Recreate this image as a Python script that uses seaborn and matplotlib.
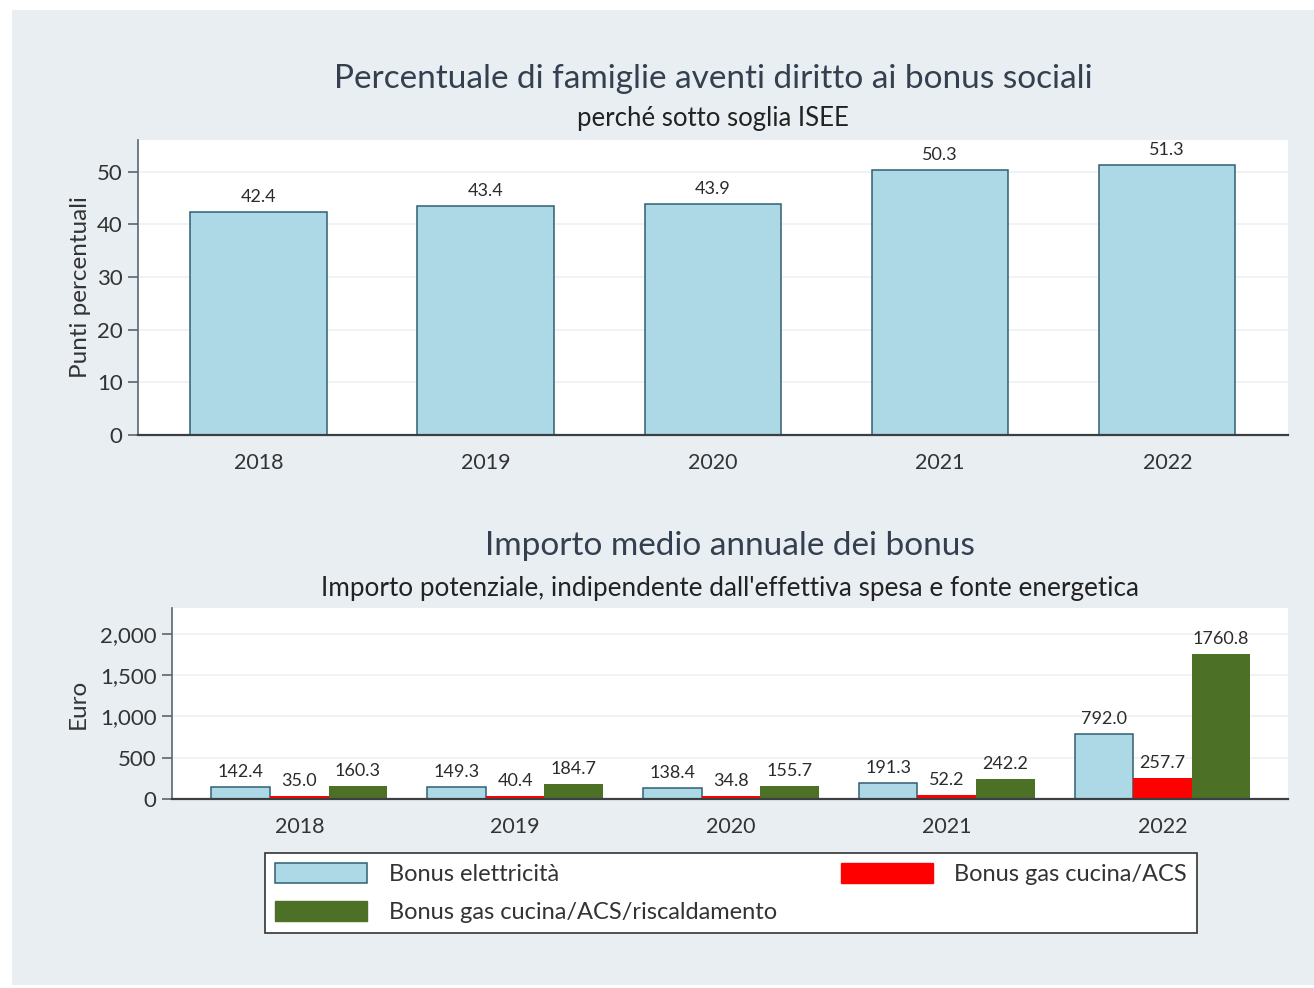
import pandas as pd
import seaborn as sns
import matplotlib.pyplot as plt
from matplotlib.patches import Patch, Rectangle

# data
years = ["2018", "2019", "2020", "2021", "2022"]
quota_isee = [42.4, 43.4, 43.9, 50.3, 51.3]

bonus_names = ["Bonus elettricità", "Bonus gas cucina/ACS",
               "Bonus gas cucina/ACS/riscaldamento"]
bonus_elettr = [142.4, 149.3, 138.4, 191.3, 792.0]
bonus_gas = [35.0, 40.4, 34.8, 52.2, 257.7]
bonus_risc = [160.3, 184.7, 155.7, 242.2, 1760.8]

c_blue = "#add8e6"
c_red = "#ff0000"
c_green = "#4c7126"
c_edge = "#2f5f73"
c_bg = "#e9eef2"
c_title = "#34404f"
c_txt = "#2b2b2b"

sns.set_theme(style="white")
plt.rcParams["font.family"] = ["Lato", "DejaVu Sans"]

fig = plt.figure(figsize=(13.14, 9.88), dpi=100)
fig.patch.set_facecolor("white")
fig.patches.append(Rectangle((12 / 1314, 3 / 988), 1 - 12 / 1314, 1 - 13 / 988,
                             transform=fig.transFigure, facecolor=c_bg,
                             edgecolor="none", zorder=-10))


def style_axis(ax):
    ax.set_facecolor("white")
    for s in ["top", "right"]:
        ax.spines[s].set_visible(False)
    ax.spines["left"].set_color("#5a6670")
    ax.spines["left"].set_linewidth(1.2)
    ax.spines["bottom"].set_color("#3a3f44")
    ax.spines["bottom"].set_linewidth(1.6)
    ax.yaxis.grid(True, color="#eef1f3", linewidth=1.2)
    ax.set_axisbelow(True)
    ax.tick_params(axis="y", length=7, width=1.2, color="#5a6670",
                   labelsize=16, labelcolor="#333333", pad=4, left=True)
    ax.tick_params(axis="x", length=0, labelsize=15.5, labelcolor="#333333", pad=13)
    ax.set_xlabel("")


# ---- top chart
ax1 = fig.add_axes([0.105, 0.5597, 0.875, 0.2986])
df1 = pd.DataFrame({"anno": years, "quota": quota_isee})
sns.barplot(data=df1, x="anno", y="quota", ax=ax1, color=c_blue, saturation=1,
            width=0.6, edgecolor=c_edge, linewidth=1.1)
style_axis(ax1)
ax1.set_ylim(0, 56)
ax1.set_xlim(-0.53, 4.53)
ax1.set_yticks([0, 10, 20, 30, 40, 50])
ax1.set_ylabel("Punti percentuali", fontsize=17.5, color="#333333", labelpad=4)
for cont in ax1.containers:
    ax1.bar_label(cont, fmt="%.1f", padding=5, fontsize=13, color=c_txt)
ax1.text(0.5, 1.0 + 61 / 295, "Percentuale di famiglie aventi diritto ai bonus sociali",
         transform=ax1.transAxes, ha="center", va="center", fontsize=24, color=c_title)
ax1.text(0.5, 1.0 + 21 / 295, "perché sotto soglia ISEE",
         transform=ax1.transAxes, ha="center", va="center", fontsize=18.5, color="#222222")

# ---- bottom chart
ax2 = fig.add_axes([0.1309, 0.1913, 0.849, 0.1933])
df2 = pd.DataFrame({
    "anno": years * 3,
    "tipo": [bonus_names[0]] * 5 + [bonus_names[1]] * 5 + [bonus_names[2]] * 5,
    "euro": bonus_elettr + bonus_gas + bonus_risc,
})
sns.barplot(data=df2, x="anno", y="euro", hue="tipo", hue_order=bonus_names,
            palette=[c_blue, c_red, c_green], saturation=1, width=0.815, gap=0,
            ax=ax2, legend=False, linewidth=0)
style_axis(ax2)
for p in ax2.containers[0]:
    p.set_edgecolor(c_edge)
    p.set_linewidth(1.1)
ax2.set_ylim(0, 2315)
ax2.set_xlim(-0.59, 4.58)
ax2.set_yticks([0, 500, 1000, 1500, 2000])
ax2.set_yticklabels(["0", "500", "1,000", "1,500", "2,000"])
ax2.set_ylabel("Euro", fontsize=17.5, color="#333333", labelpad=8)
for cont in ax2.containers:
    ax2.bar_label(cont, fmt="%.1f", padding=5, fontsize=13, color=c_txt)
ax2.text(0.5, 1.0 + 62 / 191, "Importo medio annuale dei bonus",
         transform=ax2.transAxes, ha="center", va="center", fontsize=24, color=c_title)
ax2.text(0.5, 1.0 + 20 / 191,
         "Importo potenziale, indipendente dall'effettiva spesa e fonte energetica",
         transform=ax2.transAxes, ha="center", va="center", fontsize=18.8, color="#222222")

# legend: first row elettricità + gas ACS, second row riscaldamento
handles = [Patch(facecolor=c_blue, edgecolor=c_edge, linewidth=1.1, label=bonus_names[0]),
           Patch(facecolor=c_green, edgecolor=c_green, label=bonus_names[2]),
           Patch(facecolor=c_red, edgecolor=c_red, label=bonus_names[1])]
leg = fig.legend(handles=handles, ncol=2, loc="center",
                 bbox_to_anchor=(731 / 1314, 1 - 893 / 988), fontsize=17,
                 frameon=True, fancybox=False, edgecolor="#333333",
                 facecolor="white", framealpha=1,
                 handlelength=3.9, handleheight=0.93, handletextpad=0.9,
                 columnspacing=2.7, borderpad=0.45, labelspacing=0.65)
leg.get_frame().set_linewidth(1.2)
for t in leg.get_texts():
    t.set_color("#333333")

fig.savefig("out.png", dpi=100, facecolor=fig.get_facecolor())
